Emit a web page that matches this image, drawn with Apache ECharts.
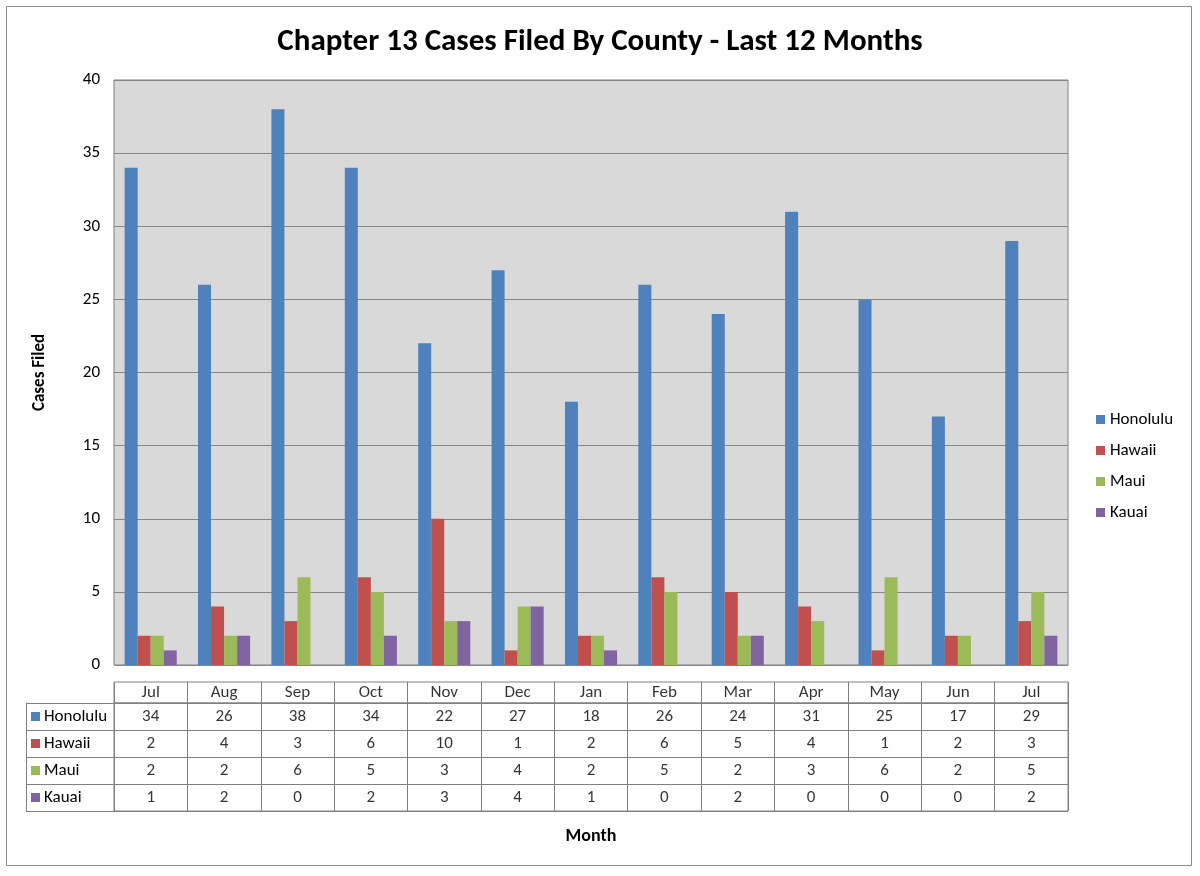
<!DOCTYPE html>
<html lang="en">
<head>
    <meta charset="UTF-8">
    <title>Chapter 13 Cases Filed By County</title>
    <script src="https://cdn.jsdelivr.net/npm/echarts@6/dist/echarts.min.js"></script>
    <style>
        html, body { margin: 0; padding: 0; background: #fff; }
        #main { width: 1200px; height: 876px; }
    </style>
</head>
<body>
    <div id="main"></div>
    <script>
        var months = ['Jul', 'Aug', 'Sep', 'Oct', 'Nov', 'Dec', 'Jan', 'Feb', 'Mar', 'Apr', 'May', 'Jun', 'Jul'];
        var honolulu = [34, 26, 38, 34, 22, 27, 18, 26, 24, 31, 25, 17, 29];
        var hawaii = [2, 4, 3, 6, 10, 1, 2, 6, 5, 4, 1, 2, 3];
        var maui = [2, 2, 6, 5, 3, 4, 2, 5, 2, 3, 6, 2, 5];
        var kauai = [1, 2, 0, 2, 3, 4, 1, 0, 2, 0, 0, 0, 2];
        var countyNames = ['Honolulu', 'Hawaii', 'Maui', 'Kauai'];
        var yMin = 0, yMax = 40, yStep = 5;

        var allValues = [honolulu, hawaii, maui, kauai];
        var colors = ['#4F81BD', '#C0504D', '#9BBB59', '#8064A2'];
        var font = 'Carlito, Lato, sans-serif';
        var lineGray = '#808080';
        var fs = 17;

        var chart = echarts.init(document.getElementById('main'));

        // plot area + table positions
        var plotLeft = 114, plotWidth = 954;
        var labelColW = 88;

        var series = [];
        for (var s = 0; s < countyNames.length; s++) {
            series.push({
                name: countyNames[s],
                type: 'bar',
                xAxisIndex: 0,
                yAxisIndex: 0,
                barGap: '0%',
                barCategoryGap: '29%',
                itemStyle: { color: colors[s] },
                data: allValues[s]
            });
        }
        // header row of the data table
        series.push({
            type: 'scatter',
            xAxisIndex: 1,
            yAxisIndex: 1,
            symbolSize: 1,
            itemStyle: { color: 'rgba(0,0,0,0)' },
            label: {
                show: true, position: 'inside', color: '#000',
                fontFamily: font, fontSize: fs,
                formatter: function (p) { return months[p.dataIndex]; }
            },
            data: months.map(function (m, i) { return [i, 0]; })
        });
        // value cells of the data table
        for (var r = 0; r < countyNames.length; r++) {
            series.push({
                type: 'scatter',
                xAxisIndex: 2,
                yAxisIndex: 2,
                symbolSize: 1,
                itemStyle: { color: 'rgba(0,0,0,0)' },
                label: {
                    show: true, position: 'inside', color: '#000',
                    fontFamily: font, fontSize: fs,
                    formatter: function (p) { return p.value[2]; }
                },
                data: allValues[r].map(function (v, i) { return [i, r, v]; })
            });
        }

        var rich = { name: { fontFamily: font, fontSize: fs, color: '#000', padding: [0, 0, 0, 4] } };
        colors.forEach(function (c, i) {
            rich['s' + i] = { width: 9, height: 9, backgroundColor: c };
        });

        var option = {
            animation: false,
            textStyle: { fontFamily: font },
            title: {
                text: 'Chapter 13 Cases Filed By County - Last 12 Months',
                left: 'center',
                top: 22,
                textStyle: { fontFamily: font, fontSize: 31, fontWeight: 'bold', color: '#000' }
            },
            legend: {
                data: countyNames,
                orient: 'vertical',
                left: 1091,
                top: 406,
                icon: 'rect',
                itemWidth: 9,
                itemHeight: 9,
                itemGap: 14,
                textStyle: { fontFamily: font, fontSize: fs, color: '#000' }
            },
            graphic: [{
                type: 'rect',
                shape: { x: 6.5, y: 6.5, width: 1185, height: 859 },
                style: { fill: 'none', stroke: '#8c8c8c', lineWidth: 1 },
                silent: true
            }],
            grid: [
                { left: plotLeft, width: plotWidth, top: 80, height: 585, show: true,
                  backgroundColor: '#D9D9D9', borderColor: lineGray, borderWidth: 1 },
                { left: plotLeft, width: plotWidth, top: 682, height: 21, show: true,
                  borderColor: lineGray, borderWidth: 1 },
                { left: plotLeft, width: plotWidth, top: 703, height: 108, show: true,
                  borderColor: lineGray, borderWidth: 1 }
            ],
            xAxis: [
                { gridIndex: 0, type: 'category', data: months,
                  axisLabel: { show: false }, axisTick: { show: false },
                  axisLine: { show: false } },
                { gridIndex: 1, type: 'category', data: months,
                  axisLabel: { show: false }, axisTick: { show: false }, axisLine: { show: false },
                  splitLine: { show: true, lineStyle: { color: lineGray } } },
                { gridIndex: 2, type: 'category', data: months,
                  axisLabel: { show: false }, axisTick: { show: false }, axisLine: { show: false },
                  splitLine: { show: true, lineStyle: { color: lineGray } },
                  name: 'Month', nameLocation: 'middle', nameGap: 16,
                  nameTextStyle: { fontFamily: font, fontSize: 18, fontWeight: 'bold', color: '#000' } }
            ],
            yAxis: [
                { gridIndex: 0, type: 'value', min: yMin, max: yMax, interval: yStep,
                  axisLabel: { fontFamily: font, fontSize: fs, color: '#000', margin: 14 },
                  axisLine: { show: false }, axisTick: { show: false },
                  splitLine: { show: true, lineStyle: { color: '#868686', width: 1 } },
                  name: 'Cases Filed', nameLocation: 'middle', nameGap: 66, nameRotate: 90,
                  nameTextStyle: { fontFamily: font, fontSize: 17, fontWeight: 'bold', color: '#000' } },
                { gridIndex: 1, type: 'category', data: ['month'],
                  axisLabel: { show: false }, axisTick: { show: false }, axisLine: { show: false } },
                { gridIndex: 2, type: 'category', data: countyNames, inverse: true,
                  axisLine: { show: false },
                  axisTick: { show: true, length: labelColW, lineStyle: { color: lineGray } },
                  splitLine: { show: true, lineStyle: { color: lineGray } },
                  axisLabel: {
                      align: 'left', margin: labelColW - 5,
                      formatter: function (v, i) { return '{s' + i + '|}{name|' + v + '}'; },
                      rich: rich
                  } },
                { gridIndex: 2, type: 'category', data: countyNames, inverse: true,
                  position: 'left', offset: labelColW,
                  axisLine: { show: true, lineStyle: { color: lineGray } },
                  axisTick: { show: false }, axisLabel: { show: false } }
            ],
            series: series
        };

        chart.setOption(option);
    </script>
</body>
</html>
